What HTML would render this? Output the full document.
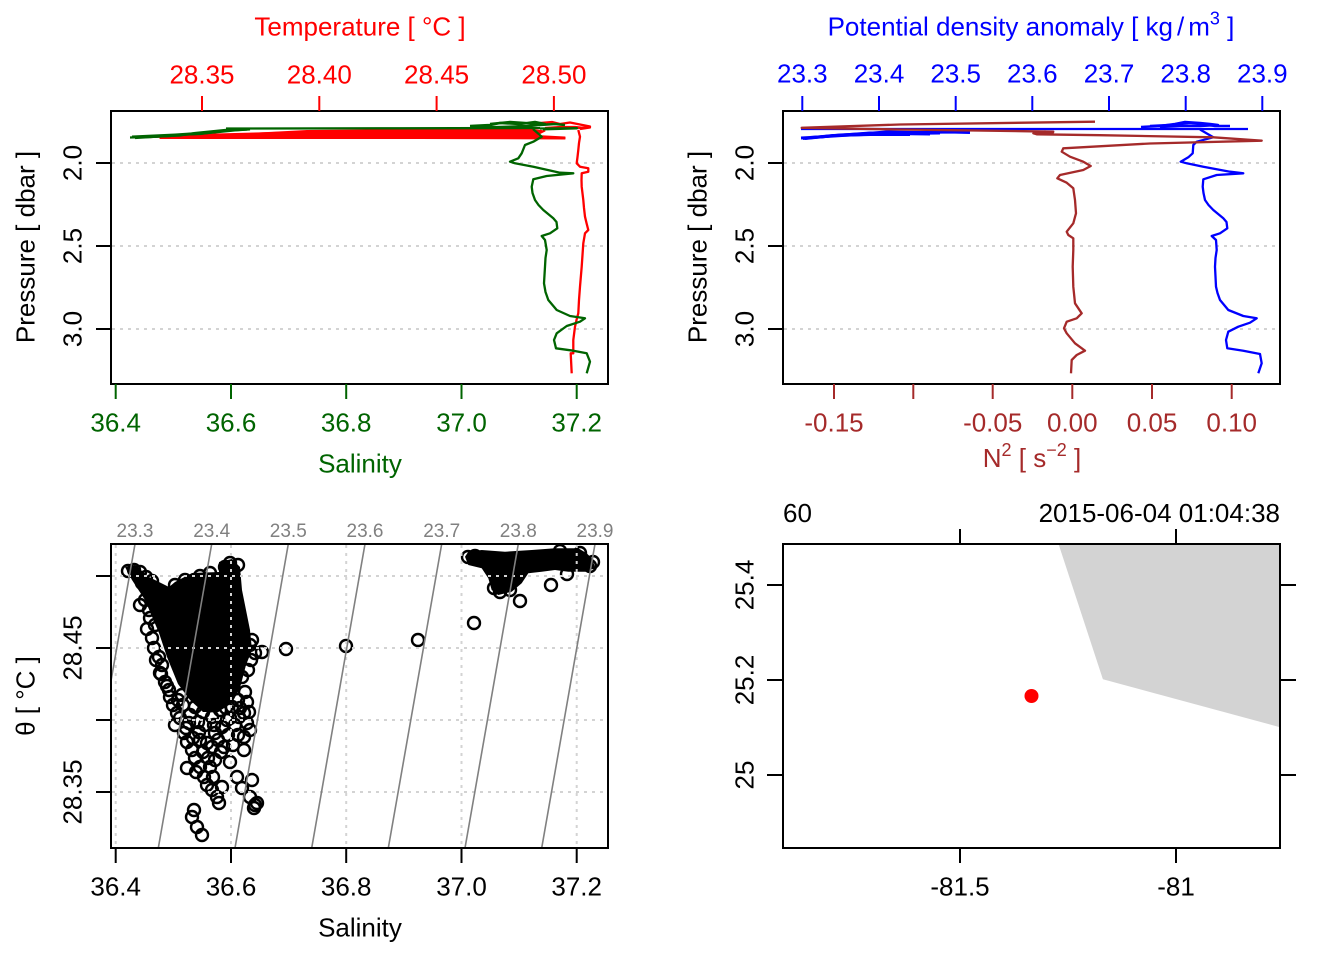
<!DOCTYPE html>
<html><head><meta charset="utf-8"><style>
html,body{margin:0;padding:0;background:#fff;}
svg{display:block;}
text{font-family:"Liberation Sans",Arial,sans-serif;font-size:26px;}
text.s19{font-size:19px;}
</style></head><body>
<svg width="1344" height="960" viewBox="0 0 1344 960" xmlns="http://www.w3.org/2000/svg">
<defs>
<clipPath id="c1"><rect x="111" y="111" width="497" height="273"/></clipPath>
<clipPath id="c2"><rect x="783" y="111" width="497" height="273"/></clipPath>
<clipPath id="c3"><rect x="111" y="544" width="497" height="304"/></clipPath>
<clipPath id="c4"><rect x="783" y="544" width="497" height="304"/></clipPath>
</defs>
<rect width="1344" height="960" fill="#fff"/>

<!-- ============ PANEL 1 ============ -->
<g stroke="#d3d3d3" stroke-width="2" stroke-dasharray="3 5">
<line x1="112" y1="163" x2="607" y2="163"/>
<line x1="112" y1="246" x2="607" y2="246"/>
<line x1="112" y1="329" x2="607" y2="329"/>
</g>
<g clip-path="url(#c1)" fill="none" stroke-linejoin="round">
<polygon fill="#ff0000" stroke="#ff0000" stroke-width="1" points="160,137 240,134 307,130.5 420,129.5 530,129 545,131 536,135.5 565,137 565,139 420,138.5 307,138.5 240,138.5 160,138.5"/>
<g stroke="#ff0000" stroke-width="2.3">
<polyline points="150,137 200,135 260,133.5 310,132"/>
<polyline points="540,123 552,122 560,124 570,122.5 580,124.5 590,126.5 585,128 575,127 560,127 545,128"/>
<polyline points="578,128 590,127.5 580,129"/>
<polyline points="578.3,130 580,136.7 579,143 578.3,150 577.5,157 576.7,163.3 580,166.7 588.3,168.3 588.3,171.7 581.7,173.3 581.5,180 581.7,186.7 583.3,200 584,208 585,216.7 586.5,223 588.3,230 585,233.3 583.3,243.3 582.5,255 581.7,266.7 580,286.7 579,300 578.3,313.3 576.5,320 575,326.7 573.3,340 573.3,353.3 570.7,353.3 571.7,373.3"/>
</g>
<g stroke="#006400" stroke-width="2.3">
<polyline points="130,137.5 150,137 170,136 185,134.5 200,134 215,132 230,130.5 247,129.5"/>
<polyline points="135,138 160,136.5 180,135.5 195,133 210,131.5 225,130 240,129"/>
<polyline points="132,137 175,135 205,133 235,130 250,129" stroke-width="3"/>
<polyline points="226,128.5 400,128.3 540,128"/>
<polyline points="470,126 490,125 500,123 520,124 535,122 545,124 530,126 500,127 480,127.5 470,127" stroke-width="2.5"/>
<polyline points="490,124 510,122 525,123 540,125 555,124 565,125" stroke-width="2.5"/>
<polyline points="540,128.5 577,128.3 543,129.3"/>
<polyline points="533,129 541.7,136.7 533.3,141.7 525,145 521.7,153.3 518.3,158.3 510,161.7 515,163.3 533.3,166.7 560,172.7 573.3,173.3 546.7,176 533.3,179.3 531.7,186.7 532.5,193 535,200 538.5,205 543.3,210 553.3,218.3 556.5,222 557.3,228.3 550,233.3 541.7,236 545,240 546.7,250 545.5,258 545,266.7 544,283.3 545.5,292 548.3,300 556.7,310 570,316 585,318.3 580,321.7 566.7,326 556.7,333.3 554,340 556,348.3 573.3,350.7 586.7,353.3 590,361.7 586.7,373.3"/>
</g>
</g>
<rect x="111" y="111" width="497" height="273" fill="none" stroke="#000" stroke-width="2"/>
<g stroke="#ff0000" stroke-width="2">
<line x1="202" y1="96" x2="202" y2="111"/><line x1="319.3" y1="96" x2="319.3" y2="111"/><line x1="436.6" y1="96" x2="436.6" y2="111"/><line x1="553.9" y1="96" x2="553.9" y2="111"/>
</g>
<g stroke="#006400" stroke-width="2">
<line x1="115.7" y1="384" x2="115.7" y2="399"/><line x1="231" y1="384" x2="231" y2="399"/><line x1="346.2" y1="384" x2="346.2" y2="399"/><line x1="461.5" y1="384" x2="461.5" y2="399"/><line x1="576.7" y1="384" x2="576.7" y2="399"/>
</g>
<g stroke="#000" stroke-width="2">
<line x1="96" y1="163" x2="111" y2="163"/><line x1="96" y1="246" x2="111" y2="246"/><line x1="96" y1="329" x2="111" y2="329"/>
</g>
<g fill="#ff0000" text-anchor="middle">
<text x="360" y="35.5">Temperature [ °C ]</text>
<text x="202" y="83.5">28.35</text><text x="319.3" y="83.5">28.40</text><text x="436.6" y="83.5">28.45</text><text x="553.9" y="83.5">28.50</text>
</g>
<g fill="#006400" text-anchor="middle">
<text x="115.7" y="431.5">36.4</text><text x="231" y="431.5">36.6</text><text x="346.2" y="431.5">36.8</text><text x="461.5" y="431.5">37.0</text><text x="576.7" y="431.5">37.2</text>
<text x="360" y="472.5">Salinity</text>
</g>
<g fill="#000" text-anchor="middle">
<text transform="translate(81.7,163) rotate(-90)">2.0</text>
<text transform="translate(81.7,246) rotate(-90)">2.5</text>
<text transform="translate(81.7,329) rotate(-90)">3.0</text>
<text transform="translate(34.5,247) rotate(-90)">Pressure [ dbar ]</text>
</g>

<!-- ============ PANEL 2 ============ -->
<g stroke="#d3d3d3" stroke-width="2" stroke-dasharray="3 5">
<line x1="784" y1="163" x2="1279" y2="163"/>
<line x1="784" y1="246" x2="1279" y2="246"/>
<line x1="784" y1="329" x2="1279" y2="329"/>
</g>
<g clip-path="url(#c2)" fill="none" stroke-linejoin="round" stroke-width="2.3">
<g stroke="#0000ff">
<polyline points="801,129 1000,129 1248,129"/>
<polyline points="801,138 820,137 840,135 860,134 886,132 920,132.5 950,132 970,132.5" stroke-width="3"/>
<polyline points="805,138.5 830,136 870,133 900,133.5 940,133" stroke-width="3"/>
<polyline points="810,137.5 850,135 890,133.5 930,134" stroke-width="3"/>
<polyline points="803,138.5 833,135.5 870,134.5 910,134.5" stroke-width="3"/>
<polyline points="1141,127 1160,126 1175,124 1185,122 1200,123 1210,124 1218,125 1200,126 1180,126 1160,127" stroke-width="2.5"/>
<polyline points="1150,126 1170,125 1190,123 1205,124.5 1215,126 1230,126" stroke-width="2.5"/>
<polyline points="1200,129.5 1213.3,137.3 1196.7,141.7 1193.3,145 1192.7,153.3 1188.3,157.3 1180.7,161.7 1186.7,163.3 1203.3,166.7 1230,171.7 1243.3,173.3 1216.7,175 1203.3,179.3 1202.7,186.7 1203.5,193 1205,200 1208.5,205 1213.3,210 1223.3,218.3 1226.5,222 1227.3,228.3 1220,233.3 1211.7,236 1216,240 1216.7,250 1215.5,258 1215,266.7 1216,286.7 1217.5,293 1220,300 1228.3,310 1243.3,316 1256.7,318.3 1250,322.7 1238.3,326.7 1228.3,331.7 1226,340 1227.3,348.3 1243.3,350.7 1260,354 1261.7,363.3 1258.3,373.3"/>
</g>
<polyline stroke="#a52a2a" points="1095,121.7 900,124.5 801.7,127.8 900,129.5 1000,130.8 1053.3,131.7 1040,132.5 1033.3,133.3 1036.7,134.3 1100,135.2 1213.3,137.3 1261.7,140.7 1150,143.5 1063.3,148.3 1061.7,151.7 1070,156.7 1083.3,161.7 1090.7,166 1083.3,170 1060,175 1057.3,178.3 1066.7,182.7 1073.3,188.3 1075,200 1076,213.3 1073.3,223.3 1066.7,231.7 1068.3,235 1073.3,238.3 1073.3,250 1072.7,266.7 1073.3,286.7 1075,303.3 1081.7,313.3 1076.7,318.3 1066.7,321.7 1064,328.3 1066.7,333.3 1075,343.3 1085,350.7 1076.7,355 1071.7,360 1071,373.3"/>
<polyline stroke="#a52a2a" points="1033,133 1045,131.5 1053,132.5 1040,134"/>
</g>
<rect x="783" y="111" width="497" height="273" fill="none" stroke="#000" stroke-width="2"/>
<g stroke="#0000ff" stroke-width="2">
<line x1="802.3" y1="96" x2="802.3" y2="111"/><line x1="879" y1="96" x2="879" y2="111"/><line x1="955.7" y1="96" x2="955.7" y2="111"/><line x1="1032.3" y1="96" x2="1032.3" y2="111"/><line x1="1109" y1="96" x2="1109" y2="111"/><line x1="1185.7" y1="96" x2="1185.7" y2="111"/><line x1="1262.3" y1="96" x2="1262.3" y2="111"/>
</g>
<g stroke="#a52a2a" stroke-width="2">
<line x1="834" y1="384" x2="834" y2="399"/><line x1="913.3" y1="384" x2="913.3" y2="399"/><line x1="992.7" y1="384" x2="992.7" y2="399"/><line x1="1072.3" y1="384" x2="1072.3" y2="399"/><line x1="1152" y1="384" x2="1152" y2="399"/><line x1="1231.7" y1="384" x2="1231.7" y2="399"/>
</g>
<g stroke="#000" stroke-width="2">
<line x1="768" y1="163" x2="783" y2="163"/><line x1="768" y1="246" x2="783" y2="246"/><line x1="768" y1="329" x2="783" y2="329"/>
</g>
<g fill="#0000ff" text-anchor="middle">
<text x="1031" y="35.5">Potential density anomaly [ kg<tspan dx="4">/</tspan><tspan dx="4">m</tspan><tspan font-size="18" dy="-11">3</tspan><tspan dy="11"> ]</tspan></text>
<text x="802.3" y="82.5">23.3</text><text x="879" y="82.5">23.4</text><text x="955.7" y="82.5">23.5</text><text x="1032.3" y="82.5">23.6</text><text x="1109" y="82.5">23.7</text><text x="1185.7" y="82.5">23.8</text><text x="1262.3" y="82.5">23.9</text>
</g>
<g fill="#a52a2a" text-anchor="middle">
<text x="834" y="431.5">-0.15</text><text x="992.7" y="431.5">-0.05</text><text x="1072.3" y="431.5">0.00</text><text x="1152" y="431.5">0.05</text><text x="1231.7" y="431.5">0.10</text>
<text x="1032" y="467">N<tspan font-size="18" dy="-11">2</tspan><tspan dy="11"> [ s</tspan><tspan font-size="18" dy="-11">−2</tspan><tspan dy="11"> ]</tspan></text>
</g>
<g fill="#000" text-anchor="middle">
<text transform="translate(753.7,163) rotate(-90)">2.0</text>
<text transform="translate(753.7,246) rotate(-90)">2.5</text>
<text transform="translate(753.7,329) rotate(-90)">3.0</text>
<text transform="translate(706.5,247) rotate(-90)">Pressure [ dbar ]</text>
</g>

<!-- ============ PANEL 3 ============ -->
<g clip-path="url(#c3)">
<polygon fill="#000" points="125,567 135,565 149,577 169,587 175,582 192,573 219,572 219,562 232,559 240,567 242,590 250,630 252,650 246,665 240,688 232,703 218,712 203,712 190,700 178,684 167,657 159,633 145,600 132,580"/>
<polygon fill="#000" points="465,556.7 468.3,551.7 481.7,550 505,551.7 531.7,550 555,548.3 578.3,548.3 586.7,553.3 591.7,558.3 595,566.7 588.3,571.7 568.3,571.7 555,570 541.7,571.7 528.3,573.3 521.7,583.3 511.7,591.7 498.3,595 491.7,590 488.3,578.3 481.7,568.3 468.3,565"/>
<g fill="none" stroke="#000" stroke-width="2.4">
<circle cx="128" cy="571" r="6"/><circle cx="134" cy="570" r="6"/><circle cx="140" cy="572" r="6"/><circle cx="146" cy="577" r="6"/><circle cx="152" cy="581" r="6"/><circle cx="142" cy="583" r="6"/><circle cx="140" cy="605" r="6"/><circle cx="145" cy="600" r="6"/><circle cx="150" cy="618" r="6"/><circle cx="147" cy="629" r="6"/><circle cx="152" cy="638" r="6"/><circle cx="154" cy="648" r="6"/><circle cx="159" cy="657" r="6"/><circle cx="162" cy="665" r="6"/><circle cx="160" cy="673" r="6"/><circle cx="165" cy="682" r="6"/><circle cx="169" cy="690" r="6"/><circle cx="170" cy="697" r="6"/><circle cx="167" cy="686" r="6"/><circle cx="161" cy="674" r="6"/><circle cx="156" cy="660" r="6"/><circle cx="149" cy="610" r="6"/><circle cx="155" cy="625" r="6"/>
<circle cx="177" cy="713" r="6"/><circle cx="175" cy="725" r="6"/><circle cx="184" cy="733" r="6"/><circle cx="187" cy="742" r="6"/><circle cx="192" cy="750" r="6"/><circle cx="195" cy="758" r="6"/><circle cx="187" cy="768" r="6"/><circle cx="200" cy="767" r="6"/><circle cx="210" cy="767" r="6"/><circle cx="204" cy="777" r="6"/><circle cx="207" cy="785" r="6"/><circle cx="212" cy="790" r="6"/><circle cx="217" cy="797" r="6"/><circle cx="219" cy="803" r="6"/><circle cx="194" cy="810" r="6"/><circle cx="192" cy="817" r="6"/><circle cx="197" cy="827" r="6"/><circle cx="202" cy="835" r="6"/>
<circle cx="222" cy="727" r="6"/><circle cx="224" cy="747" r="6"/><circle cx="212" cy="747" r="6"/><circle cx="230" cy="762" r="6"/><circle cx="244" cy="750" r="6"/><circle cx="244" cy="737" r="6"/><circle cx="247" cy="723" r="6"/><circle cx="244" cy="713" r="6"/><circle cx="247" cy="702" r="6"/><circle cx="245" cy="692" r="6"/><circle cx="242" cy="677" r="6"/><circle cx="237" cy="777" r="6"/><circle cx="242" cy="788" r="6"/><circle cx="252" cy="780" r="6"/><circle cx="250" cy="797" r="6"/><circle cx="255" cy="805" r="6"/><circle cx="254" cy="808" r="6"/><circle cx="257" cy="803" r="6"/>
<circle cx="199" cy="732" r="6"/><circle cx="207" cy="743" r="6"/><circle cx="212" cy="717" r="6"/><circle cx="225" cy="697" r="6"/><circle cx="232" cy="707" r="6"/><circle cx="239" cy="717" r="6"/><circle cx="227" cy="720" r="6"/><circle cx="189" cy="723" r="6"/><circle cx="195" cy="707" r="6"/><circle cx="232" cy="683" r="6"/><circle cx="205" cy="725" r="6"/><circle cx="215" cy="733" r="6"/><circle cx="220" cy="710" r="6"/><circle cx="183" cy="705" r="6"/><circle cx="190" cy="715" r="6"/><circle cx="200" cy="740" r="6"/><circle cx="218" cy="740" r="6"/><circle cx="228" cy="735" r="6"/><circle cx="235" cy="725" r="6"/><circle cx="238" cy="700" r="6"/><circle cx="208" cy="700" r="6"/><circle cx="214" cy="725" r="6"/><circle cx="203" cy="712" r="6"/><circle cx="182" cy="695" r="6"/><circle cx="196" cy="694" r="6"/>
<circle cx="180" cy="718" r="6"/><circle cx="186" cy="728" r="6"/><circle cx="193" cy="738" r="6"/><circle cx="203" cy="752" r="6"/><circle cx="208" cy="758" r="6"/><circle cx="198" cy="722" r="6"/><circle cx="221" cy="752" r="6"/><circle cx="233" cy="745" r="6"/><circle cx="238" cy="735" r="6"/><circle cx="230" cy="718" r="6"/><circle cx="216" cy="705" r="6"/><circle cx="226" cy="708" r="6"/><circle cx="240" cy="708" r="6"/><circle cx="249" cy="712" r="6"/><circle cx="250" cy="730" r="6"/><circle cx="173" cy="705" r="6"/><circle cx="178" cy="700" r="6"/><circle cx="215" cy="760" r="6"/><circle cx="196" cy="772" r="6"/><circle cx="213" cy="777" r="6"/><circle cx="222" cy="787" r="6"/>
<circle cx="262" cy="652" r="6"/><circle cx="255" cy="653" r="6"/><circle cx="250" cy="645" r="6"/><circle cx="252" cy="640" r="6"/><circle cx="251" cy="660" r="6"/><circle cx="248" cy="670" r="6"/>
<circle cx="175" cy="585" r="6"/><circle cx="185" cy="580" r="6"/><circle cx="200" cy="576" r="6"/><circle cx="210" cy="573" r="6"/><circle cx="225" cy="567" r="6"/><circle cx="230" cy="563" r="6"/><circle cx="238" cy="565" r="6"/><circle cx="178" cy="590" r="6"/>
<circle cx="286" cy="649" r="6"/><circle cx="346" cy="646" r="6"/><circle cx="418" cy="640" r="6"/><circle cx="474" cy="623" r="6"/><circle cx="520" cy="601" r="6"/><circle cx="551" cy="585" r="6"/><circle cx="567" cy="574" r="6"/>
<circle cx="468" cy="557" r="6"/><circle cx="475" cy="556" r="6"/><circle cx="590" cy="566" r="6"/><circle cx="593" cy="562" r="6"/><circle cx="500" cy="592" r="6"/><circle cx="510" cy="590" r="6"/><circle cx="494" cy="588" r="6"/><circle cx="580" cy="553" r="6"/><circle cx="560" cy="551" r="6"/>
</g>
<g stroke="#d3d3d3" stroke-width="2" stroke-dasharray="3 5">
<line x1="115.7" y1="545" x2="115.7" y2="847"/><line x1="231" y1="545" x2="231" y2="847"/><line x1="346.2" y1="545" x2="346.2" y2="847"/><line x1="461.5" y1="545" x2="461.5" y2="847"/><line x1="576.7" y1="545" x2="576.7" y2="847"/>
<line x1="112" y1="576" x2="607" y2="576"/><line x1="112" y1="648" x2="607" y2="648"/><line x1="112" y1="720" x2="607" y2="720"/><line x1="112" y1="792" x2="607" y2="792"/>
</g>
<g stroke="#808080" stroke-width="1.6">
<line x1="135" y1="544" x2="81.7" y2="848"/><line x1="211.7" y1="544" x2="158.3" y2="848"/><line x1="288.3" y1="544" x2="235" y2="848"/><line x1="365" y1="544" x2="311.7" y2="848"/><line x1="441.7" y1="544" x2="388.3" y2="848"/><line x1="518.3" y1="544" x2="465" y2="848"/><line x1="595" y1="544" x2="541.7" y2="848"/>
</g>
</g>
<rect x="111" y="544" width="497" height="304" fill="none" stroke="#000" stroke-width="2"/>
<g fill="#808080" text-anchor="middle">
<text class="s19" x="135" y="537">23.3</text><text class="s19" x="211.7" y="537">23.4</text><text class="s19" x="288.3" y="537">23.5</text><text class="s19" x="365" y="537">23.6</text><text class="s19" x="441.7" y="537">23.7</text><text class="s19" x="518.3" y="537">23.8</text><text class="s19" x="595" y="537">23.9</text>
</g>
<g stroke="#000" stroke-width="2">
<line x1="115.7" y1="848" x2="115.7" y2="863"/><line x1="231" y1="848" x2="231" y2="863"/><line x1="346.2" y1="848" x2="346.2" y2="863"/><line x1="461.5" y1="848" x2="461.5" y2="863"/><line x1="576.7" y1="848" x2="576.7" y2="863"/>
<line x1="96" y1="576" x2="111" y2="576"/><line x1="96" y1="648" x2="111" y2="648"/><line x1="96" y1="720" x2="111" y2="720"/><line x1="96" y1="792" x2="111" y2="792"/>
</g>
<g fill="#000" text-anchor="middle">
<text x="115.7" y="895.5">36.4</text><text x="231" y="895.5">36.6</text><text x="346.2" y="895.5">36.8</text><text x="461.5" y="895.5">37.0</text><text x="576.7" y="895.5">37.2</text>
<text x="360" y="936.5">Salinity</text>
<text transform="translate(81.7,648) rotate(-90)">28.45</text>
<text transform="translate(81.7,792) rotate(-90)">28.35</text>
<text transform="translate(34.5,696) rotate(-90)">θ [ °C ]</text>
</g>

<!-- ============ PANEL 4 (map) ============ -->
<g clip-path="url(#c4)">
<polygon fill="#d3d3d3" points="1058.2,543 1102.9,679.3 1281,727.5 1281,543"/>
<circle cx="1031.5" cy="696" r="7" fill="#ff0000"/>
</g>
<rect x="783" y="544" width="497" height="304" fill="none" stroke="#000" stroke-width="2"/>
<g stroke="#000" stroke-width="2">
<line x1="960" y1="529" x2="960" y2="544"/><line x1="1176" y1="529" x2="1176" y2="544"/>
<line x1="960" y1="848" x2="960" y2="863"/><line x1="1176" y1="848" x2="1176" y2="863"/>
<line x1="767" y1="585" x2="783" y2="585"/><line x1="767" y1="680" x2="783" y2="680"/><line x1="767" y1="775" x2="783" y2="775"/>
<line x1="1280" y1="585" x2="1296" y2="585"/><line x1="1280" y1="680" x2="1296" y2="680"/><line x1="1280" y1="775" x2="1296" y2="775"/>
</g>
<g fill="#000">
<text x="783" y="522">60</text>
<text x="1280" y="522" text-anchor="end">2015-06-04 01:04:38</text>
<text x="960" y="895.5" text-anchor="middle">-81.5</text>
<text x="1176" y="895.5" text-anchor="middle">-81</text>
<text transform="translate(753.7,585) rotate(-90)" text-anchor="middle">25.4</text>
<text transform="translate(753.7,680) rotate(-90)" text-anchor="middle">25.2</text>
<text transform="translate(753.7,775) rotate(-90)" text-anchor="middle">25</text>
</g>
</svg>
</body></html>
